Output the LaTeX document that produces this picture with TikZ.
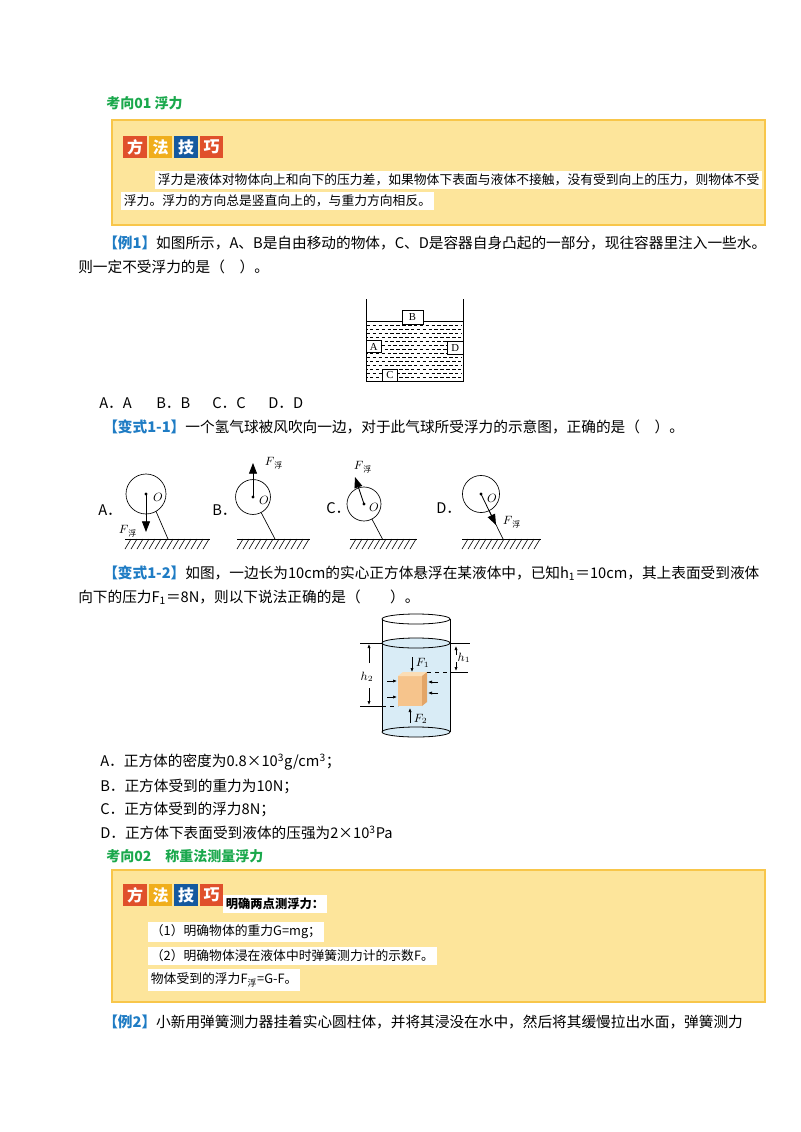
\documentclass[tikz,border=0pt]{standalone}
\usepackage{fontspec}
\setmainfont{Noto Sans CJK SC}
\newfontfamily\serif{Liberation Serif}
\usetikzlibrary{arrows.meta}
\definecolor{kxgreen}{HTML}{1AA84C}
\definecolor{lblue}{HTML}{1F7CC4}
\definecolor{boxfill}{HTML}{FDE59B}
\definecolor{boxline}{HTML}{F8C64A}
\definecolor{tred}{HTML}{E0502B}
\definecolor{tyel}{HTML}{F0AE1C}
\definecolor{tblu}{HTML}{15599F}
\definecolor{water}{HTML}{D9ECF6}
\definecolor{cubef}{HTML}{F6C48C}
\definecolor{cubet}{HTML}{FBDDB5}
\definecolor{cubes}{HTML}{E3A567}
\tikzset{
  line/.style={anchor=west,inner sep=0pt,font=\fontsize{11}{13}\selectfont},
  head/.style={anchor=west,inner sep=0pt,font=\bfseries\fontsize{10.5}{12}\selectfont,text=kxgreen},
  tip/.style={anchor=west,inner xsep=2pt,inner ysep=2.5pt,fill=white,font=\fontsize{9.6}{11}\selectfont},
  tile/.style={minimum width=17.6pt,minimum height=16.5pt,inner sep=0pt,text=white,font=\bfseries\fontsize{12}{12}\selectfont},
  tipbox/.style={fill=boxfill,draw=boxline,line width=1.2pt},
  blk/.style={draw,fill=white,inner sep=0pt,font=\serif\fontsize{8}{8}\selectfont},
  wdash/.style={line width=0.45pt,dash pattern=on 2.6pt off 1.8pt},
  lab/.style={inner sep=0.5pt,font=\fontsize{9}{10}\selectfont},
  fa/.style={-{Triangle[length=8pt,width=6pt]}},
  da/.style={-{Latex[length=3pt,width=2.4pt]},line width=0.5pt},
}
\begin{document}
\begin{tikzpicture}[x=0.75pt,y=-0.75pt]
\useasboundingbox (0,0) rectangle (800,1132);

\node[head] (k1) at (106,103) {考向01 浮力};
\draw[tipbox] (112,120) rectangle (765,225);
\foreach \c/\t [count=\i from 0] in {tred/方,tyel/法,tblu/技,tred/巧}
  \node[tile,fill=\c] (t\i) at (135+\i*25.5,147) {\t};
\node[tip] (p1) at (155,180) {浮力是液体对物体向上和向下的压力差，如果物体下表面与液体不接触，没有受到向上的压力，则物体不受};
\node[tip] (p2) at (121,201) {浮力。浮力的方向总是竖直向上的，与重力方向相反。};

\node[line] (e1) at (103,243) {\textcolor{lblue}{\bfseries【例1】}如图所示，A、B是自由移动的物体，C、D是容器自身凸起的一部分，现往容器里注入一些水。};
\node[line] (e1b) at (78,267) {则一定不受浮力的是（　）。};

\foreach \y in {325,333,...,379} \draw[wdash] (367,\y) -- (462,\y);
\foreach \y in {329,337,...,377} \draw[wdash,dash phase=2.2pt] (367,\y) -- (462,\y);
\draw[line width=0.7pt] (366,299) -- (366,381) -- (463,381) -- (463,299);
\draw[line width=0.5pt] (366,321) -- (463,321);
\node[blk,minimum width=15.8pt,minimum height=10pt] (bb) at (412.5,317.3) {B};
\node[blk,minimum width=11.8pt,minimum height=9pt] (ba) at (373.8,346.7) {A};
\node[blk,minimum width=11.5pt,minimum height=9.2pt] (bd) at (455.3,347.8) {D};
\node[blk,minimum width=11pt,minimum height=9pt] (bc) at (390,375) {C};

\foreach \l/\x in {A/99,B/156,C/212,D/268}
  \node[line] (q\l) at (\x,403) {\l．\l};
\node[line] (v1) at (103,427) {\textcolor{lblue}{\bfseries【变式1-1】}一个氢气球被风吹向一边，对于此气球所受浮力的示意图，正确的是（　）。};

\foreach \a/\n in {125/14,237/12,350/11,462/13} {
  \draw[line width=0.6pt] (\a,539) -- ({\a+6*\n+1},539);
  \foreach \k in {1,...,\n} \draw[line width=0.45pt] ({\a+6*\k},539) -- ({\a+6*\k-6},549);
}

\node[line] (la) at (98,510) {A．};
\coordinate (oa) at (146,494);
\coordinate (fa) at (146,532);
\draw[line width=0.5pt] (oa) circle[radius=15pt];
\fill (oa) circle[radius=1.3pt];
\draw[line width=0.5pt] (156,511.3) -- (168,539);
\draw[fa,line width=0.6pt] (oa) -- (fa);
\node[lab] (oal) at (158,497) {$O$};
\node[lab] (fal) at (128,531) {$F$\textsubscript{浮}};

\node[line] (lb) at (212,510) {B．};
\coordinate (ob) at (253,497);
\coordinate (fb) at (253,463);
\draw[line width=0.5pt] (ob) circle[radius=13.1pt];
\fill (ob) circle[radius=1.3pt];
\draw[line width=0.5pt] (261.1,512.5) -- (275,539);
\draw[fa,line width=0.6pt] (ob) -- (fb);
\node[lab] (obl) at (264,500) {$O$};
\node[lab] (fbl) at (274,463) {$F$\textsubscript{浮}};

\node[line] (lc) at (326,508) {C．};
\coordinate (oc) at (364,504);
\coordinate (fc) at (355,477);
\draw[line width=0.5pt] (oc) circle[radius=12.75pt];
\fill (oc) circle[radius=1.3pt];
\draw[line width=0.5pt] (371.9,519) -- (383,540);
\draw[fa,line width=0.6pt] (oc) -- (fc);
\node[lab] (ocl) at (374,507) {$O$};
\node[lab] (fcl) at (363,467) {$F$\textsubscript{浮}};

\node[line] (ld) at (436,508) {D．};
\coordinate (od) at (481,494);
\coordinate (fd) at (496,525);
\draw[line width=0.5pt] (od) circle[radius=13.9pt];
\fill (od) circle[radius=1.3pt];
\draw[line width=0.5pt] (489.1,510.6) -- (503,539);
\draw[fa,line width=0.6pt] (od) -- (fd);
\node[lab] (odl) at (492,498) {$O$};
\node[lab] (fdl) at (512,522) {$F$\textsubscript{浮}};

\node[line] (v2) at (103,573) {\textcolor{lblue}{\bfseries【变式1-2】}如图，一边长为10cm的实心正方体悬浮在某液体中，已知h\textsubscript{1}＝10cm，其上表面受到液体};
\node[line] (v2b) at (78,597) {向下的压力F\textsubscript{1}＝8N，则以下说法正确的是（　　）。};

\fill[water] (382,643) rectangle (450,732);
\fill[water] (416,643) ellipse[x radius=25.5pt,y radius=3.75pt];
\fill[water] (416,732) ellipse[x radius=25.5pt,y radius=3.75pt];
\draw[line width=0.6pt] (382,619) -- (382,732) (450,619) -- (450,732);
\draw[line width=0.6pt] (416,619) ellipse[x radius=25.5pt,y radius=3.75pt];
\draw[line width=0.6pt] (416,643) ellipse[x radius=25.5pt,y radius=3.75pt];
\draw[line width=0.6pt] (416,732) ellipse[x radius=25.5pt,y radius=3.75pt];
\fill[cubef] (398,676) rectangle (422,706);
\fill[cubet] (398,676) -- (403,672) -- (427,672) -- (422,676) -- cycle;
\fill[cubes] (422,676) -- (427,672) -- (427,702) -- (422,706) -- cycle;

\draw[line width=0.5pt] (450,643) -- (470,643);
\draw[line width=0.5pt,dashed] (427,672) -- (450,672);
\draw[line width=0.5pt] (450,672) -- (468,672);
\draw[da] (456,655) -- (456,646);
\draw[da] (456,662) -- (456,671);
\node[lab] (h1) at (464,658) {$h_1$};
\draw[line width=0.5pt] (360,643) -- (382,643);
\draw[line width=0.5pt] (360,706) -- (382,706);
\draw[line width=0.5pt,dashed] (382,706) -- (398,706);
\draw[da] (369,663) -- (369,644);
\draw[da] (369,688) -- (369,705);
\node[lab] (h2) at (367,677) {$h_2$};
\draw[da] (412,657) -- (412,672);
\node[lab,anchor=west] (f1) at (415,663) {$F_1$};
\draw[da] (410,723) -- (410,708);
\node[lab,anchor=west] (f2) at (413,719) {$F_2$};
\draw[da] (387,681) -- (397,681);
\draw[da] (387,697) -- (397,697);
\draw[da] (438,682) -- (428,682);
\draw[da] (438,693) -- (428,693);

\node[line] (ca) at (100,762) {A．正方体的密度为0.8×10\textsuperscript{3}g/cm\textsuperscript{3}；};
\node[line] (cb) at (100,786) {B．正方体受到的重力为10N；};
\node[line] (cc) at (100,809) {C．正方体受到的浮力8N；};
\node[line] (cd) at (100,833) {D．正方体下表面受到液体的压强为2×10\textsuperscript{3}Pa};

\node[head] (k2) at (106,856) {考向02\quad 称重法测量浮力};
\draw[tipbox] (112,870) rectangle (765,1002);
\foreach \c/\t [count=\i from 0] in {tred/方,tyel/法,tblu/技,tred/巧}
  \node[tile,fill=\c] (s\i) at (135+\i*25.5,895) {\t};
\node[tip,font=\bfseries\fontsize{9.2}{11}\selectfont] (m0) at (223,904) {明确两点测浮力：};
\node[tip] (m1) at (148,932) {（1）明确物体的重力G=mg；};
\node[tip] (m2) at (148,956) {（2）明确物体浸在液体中时弹簧测力计的示数F。};
\node[tip] (m3) at (148,980) {物体受到的浮力F\textsubscript{浮}=G-F。};

\node[line] (e2) at (103,1022) {\textcolor{lblue}{\bfseries【例2】}小新用弹簧测力器挂着实心圆柱体，并将其浸没在水中，然后将其缓慢拉出水面，弹簧测力};
\end{tikzpicture}
\end{document}
